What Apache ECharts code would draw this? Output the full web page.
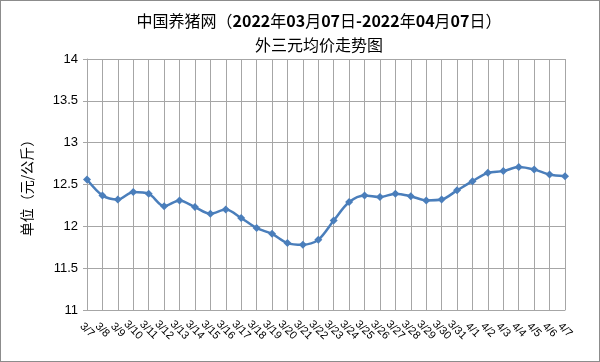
<!DOCTYPE html>
<html>
<head>
<meta charset="utf-8">
<script src="https://cdn.jsdelivr.net/npm/echarts@6/dist/echarts.min.js"></script>
<style>
html,body{margin:0;padding:0;background:#fff;}
#main{width:600px;height:362px;box-sizing:border-box;border:1px solid #8c8c8c;}
</style>
</head>
<body>
<div id="main"></div>
<script>
// 日期
var days = ['3/7','3/8','3/9','3/10','3/11','3/12','3/13','3/14','3/15','3/16','3/17','3/18','3/19','3/20','3/21','3/22',
  '3/23','3/24','3/25','3/26','3/27','3/28','3/29','3/30','3/31','4/1','4/2','4/3','4/4','4/5','4/6','4/7'];
// 外三元均价（元/公斤）
var prices = [12.56,12.37,12.32,12.41,12.39,12.24,12.31,12.23,12.15,12.20,12.10,11.98,11.91,11.80,11.78,11.84,
  12.07,12.29,12.37,12.35,12.39,12.36,12.31,12.32,12.43,12.54,12.64,12.66,12.71,12.68,12.62,12.60];
var yTicks = [11,11.5,12,12.5,13,13.5,14];

var titleLine1 = '中国养猪网（2022年03月07日-2022年04月07日）';
var titleLine2 = '外三元均价走势图';

/*数字部分加粗*/
var richTitle = function(s){
  return s.replace(/([0-9\-]+)/g, '{b|$1}').replace(/([^{}|b0-9\-]+)(?![^{]*\})/g, '{a|$1}');
};

var chart = echarts.init(document.getElementById('main'));
var cjk = '"Noto Sans CJK SC", sans-serif';
var option = {
  animation:false,
  title:[
    {text:richTitle(titleLine1), left:313, top:7, textAlign:'center',
      textStyle:{rich:{
        a:{fontFamily:cjk, fontSize:16, color:'#000', fontWeight:'normal'},
        b:{fontFamily:cjk, fontSize:16, color:'#000', fontWeight:'bold'}
      }}},
    {text:titleLine2, left:313, top:31, textAlign:'center',
      textStyle:{fontFamily:cjk, fontSize:16, color:'#000', fontWeight:'normal'}}
  ],
  grid:{left:86, right:34, top:58, bottom:51, containLabel:false},
  xAxis:{
    type:'category',
    data:days,
    boundaryGap:false,
    axisLine:{lineStyle:{color:'#a6a6a6'}},
    axisTick:{show:false},
    splitLine:{show:true, lineStyle:{color:'#a6a6a6', width:1}},
    axisLabel:{interval:0, rotate:-45, fontSize:11, color:'#000', margin:20,
      align:'center', verticalAlign:'middle', fontFamily:'"Liberation Sans", sans-serif'}
  },
  yAxis:{
    type:'value',
    min:yTicks[0], max:yTicks[yTicks.length-1], interval:0.5,
    name:'单位（元/公斤）',
    nameLocation:'middle',
    nameGap:53,
    nameTextStyle:{fontFamily:cjk, fontSize:14, color:'#000'},
    axisLine:{show:true, lineStyle:{color:'#a6a6a6'}},
    axisTick:{show:true, length:4, lineStyle:{color:'#a6a6a6'}},
    splitLine:{lineStyle:{color:'#a6a6a6', width:1}},
    axisLabel:{fontSize:13, color:'#000', margin:9, fontFamily:'"Liberation Sans", sans-serif'}
  },
  series:[{
    type:'line',
    data:prices,
    smooth:0.3,
    symbol:'diamond',
    symbolSize:8,
    lineStyle:{color:'#4a7ebb', width:2.5},
    itemStyle:{color:'#4a7ebb'}
  }]
};
chart.setOption(option);
</script>
</body>
</html>
